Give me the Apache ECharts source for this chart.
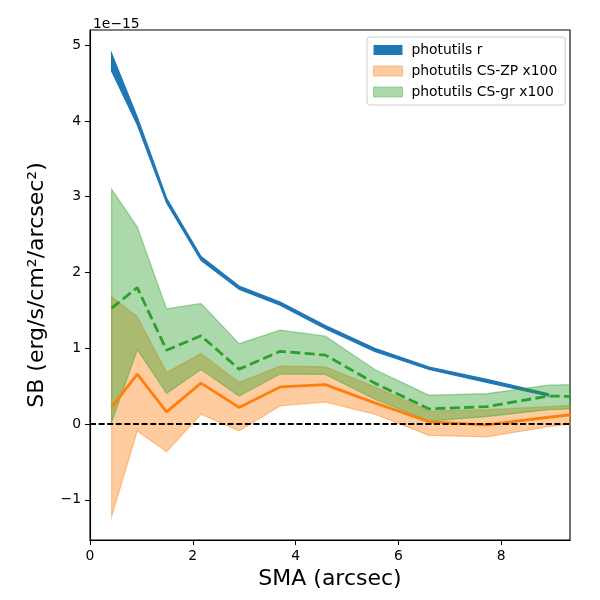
<!DOCTYPE html>
<html>
<head>
<meta charset="utf-8">
<script src="https://cdn.jsdelivr.net/npm/echarts@6/dist/echarts.min.js"></script>
<style>
  html, body { margin: 0; padding: 0; background: #fff; }
  #chart { width: 600px; height: 600px; }
</style>
</head>
<body>
<div id="chart"></div>
<script>
// semi-major axis (arcsec)
const sma = [0.42, 0.92, 1.49, 2.16, 2.90, 3.70, 4.58, 5.54, 6.60, 7.72, 8.92, 9.34];

// photutils r band (units of 1e-15)
const rLow = [4.66, 3.95, 2.92, 2.16, 1.78, 1.57, 1.26, 0.96, 0.72, 0.55, 0.37];
const rHigh = [4.89, 4.05, 2.98, 2.21, 1.82, 1.61, 1.30, 1.00, 0.75, 0.59, 0.40];

// CS-ZP x100
const zpMid = [0.22, 0.66, 0.16, 0.54, 0.22, 0.49, 0.52, 0.28, 0.03, -0.01, 0.09, 0.12];
const zpLow = [-1.22, -0.09, -0.365, 0.13, -0.09, 0.24, 0.29, 0.13, -0.15, -0.17, -0.035, 0.0];
const zpHigh = [1.68, 1.415, 0.68, 0.93, 0.55, 0.765, 0.755, 0.49, 0.17, 0.19, 0.23, 0.245];

// CS-gr x100
const grMid = [1.53, 1.80, 0.975, 1.165, 0.725, 0.96, 0.91, 0.54, 0.20, 0.23, 0.37, 0.365];
const grLow = [0.02, 0.985, 0.405, 0.72, 0.37, 0.66, 0.655, 0.33, 0.04, 0.10, 0.19, 0.20];
const grHigh = [3.10, 2.60, 1.52, 1.59, 1.06, 1.24, 1.16, 0.72, 0.38, 0.40, 0.515, 0.52];

const xTicks = [0, 2, 4, 6, 8];
const yTicks = [-1, 0, 1, 2, 3, 4, 5];

const FONT = 'DejaVu Sans';
const pairs = (ys) => ys.map((y, i) => [sma[i], y]);
const minus = (v) => String(v).replace('-', '\u2212');

// fill_between as one polygon, placed with the axis scales
function band(name, lo, hi, fill, edge) {
  return {
    name: name, type: 'custom', silent: true,
    data: [[sma[0], lo[0]]],
    renderItem: (params, api) => {
      const pts = [];
      lo.forEach((v, i) => pts.push(api.coord([sma[i], v])));
      for (let i = hi.length - 1; i >= 0; i--) pts.push(api.coord([sma[i], hi[i]]));
      return {
        type: 'polygon',
        shape: { points: pts },
        style: { fill: fill, stroke: edge, lineWidth: 1.3 },
      };
    },
  };
}

const options = {
  animation: false,
  textStyle: { fontFamily: FONT },
  title: {
    text: '1e\u221215', left: 88, top: 12,
    textStyle: { fontFamily: FONT, fontSize: 13.9, fontWeight: 'normal', color: '#000' },
  },
  grid: {
    left: 90, right: 30, top: 30, bottom: 60,
    show: true, borderColor: '#000', borderWidth: 1.1,
  },
  legend: {
    orient: 'vertical', left: 367, top: 37,
    backgroundColor: 'rgba(255,255,255,0.8)', borderColor: '#cccccc', borderWidth: 1, borderRadius: 3,
    padding: [6, 8, 6, 6], itemGap: 7, itemWidth: 29, itemHeight: 10,
    textStyle: { fontFamily: FONT, fontSize: 13.9, color: '#000', padding: [0, 0, 0, 4] },
    data: [
      { name: 'photutils r', icon: 'rect', itemStyle: { color: '#1f77b4' } },
      { name: 'photutils CS-ZP x100', icon: 'rect', itemStyle: { color: 'rgba(255,127,14,0.4)', borderColor: 'rgba(255,127,14,0.4)', borderWidth: 1 } },
      { name: 'photutils CS-gr x100', icon: 'rect', itemStyle: { color: 'rgba(44,160,44,0.4)', borderColor: 'rgba(44,160,44,0.4)', borderWidth: 1 } },
    ],
  },
  xAxis: {
    type: 'value', min: 0, max: 9.34,
    name: 'SMA (arcsec)', nameLocation: 'middle', nameGap: 28,
    nameTextStyle: { fontFamily: FONT, fontSize: 22, color: '#000' },
    axisLine: { onZero: false, lineStyle: { color: '#000', width: 1.1 } },
    axisTick: { length: 5, lineStyle: { color: '#000' }, customValues: xTicks },
    axisLabel: { margin: 9, fontFamily: FONT, fontSize: 13.9, color: '#000', customValues: xTicks, formatter: minus },
    splitLine: { show: false },
  },
  yAxis: {
    type: 'value', min: -1.53, max: 5.2,
    name: 'SB (erg/s/cm\u00b2/arcsec\u00b2)', nameLocation: 'middle', nameGap: 42,
    nameTextStyle: { fontFamily: FONT, fontSize: 22, color: '#000' },
    axisLine: { show: true, onZero: false, lineStyle: { color: '#000', width: 1.1 } },
    axisTick: { show: true, length: 5, lineStyle: { color: '#000' }, customValues: yTicks },
    axisLabel: { margin: 9, fontFamily: FONT, fontSize: 13.9, color: '#000', customValues: yTicks, formatter: minus },
    splitLine: { show: false },
  },
  series: [
    band('photutils r', rLow, rHigh, '#1f77b4', '#1f77b4'),
    band('photutils CS-ZP x100', zpLow, zpHigh, 'rgba(255,127,14,0.4)', 'rgba(255,127,14,0.4)'),
    band('photutils CS-gr x100', grLow, grHigh, 'rgba(44,160,44,0.4)', 'rgba(44,160,44,0.4)'),
    {
      name: 'CS-ZP profile', type: 'line', data: pairs(zpMid), symbol: 'none', silent: true, z: 3,
      lineStyle: { color: '#ff7f0e', width: 2.8 },
    },
    {
      name: 'CS-gr profile', type: 'line', data: pairs(grMid), symbol: 'none', silent: true, z: 3,
      lineStyle: { color: '#2ca02c', width: 2.8, type: [10, 4.4] },
    },
    {
      name: 'zero', type: 'line', data: [], silent: true, z: 4,
      markLine: {
        silent: true, symbol: 'none', label: { show: false },
        lineStyle: { color: '#000', width: 2.1, type: [6, 2.6] },
        data: [{ yAxis: 0 }],
      },
    },
  ],
};

const myChart = echarts.init(document.getElementById('chart'));
myChart.setOption(options);
</script>
</body>
</html>
